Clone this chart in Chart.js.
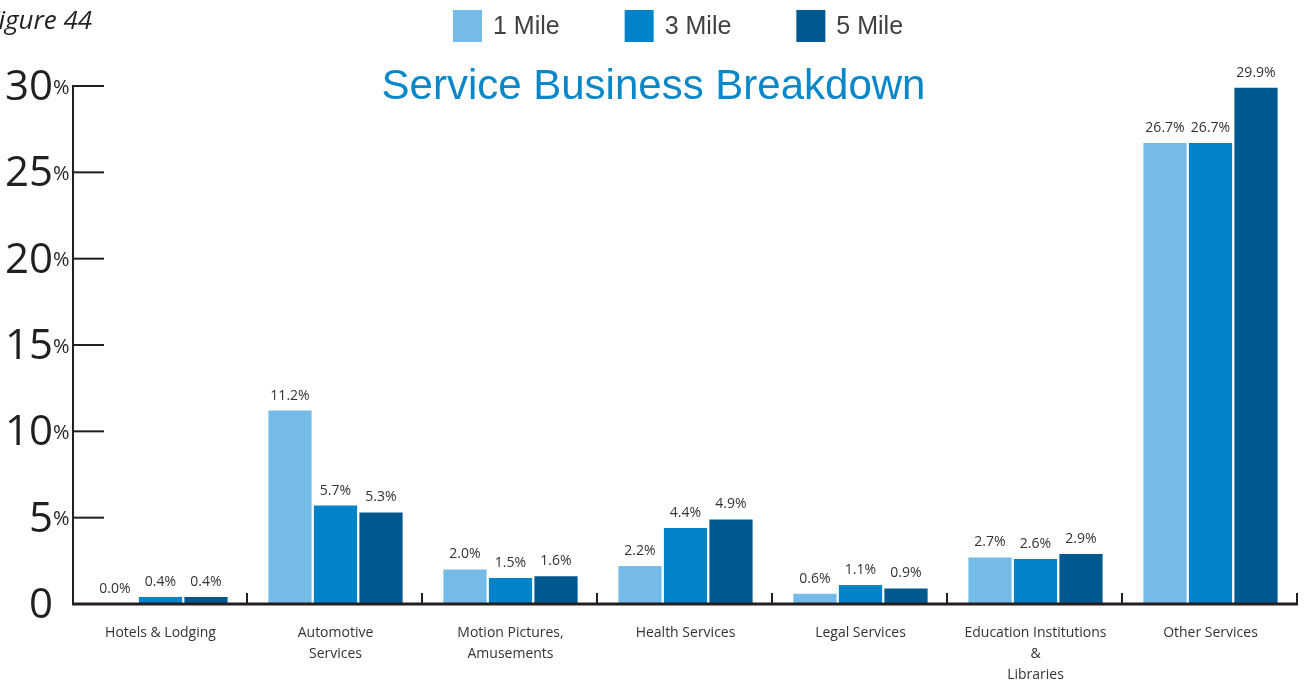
<!DOCTYPE html>
<html>
<head>
<meta charset="utf-8">
<title>Service Business Breakdown</title>
<script src="https://cdn.jsdelivr.net/npm/chart.js@4"></script>
<style>
    html, body { margin: 0; padding: 0; background: #fff; }
    #wrap { position: relative; width: 1305px; height: 682px; }
</style>
</head>
<body>
<div id="wrap"><canvas id="serviceChart"></canvas></div>
<script>
const categories = [
    'Hotels & Lodging',
    ['Automotive', 'Services'],
    ['Motion Pictures,', 'Amusements'],
    'Health Services',
    'Legal Services',
    ['Education Institutions', '&', 'Libraries'],
    'Other Services'
];
const seriesNames = ['1 Mile', '3 Mile', '5 Mile'];
const oneMile = [0.0, 11.2, 2.0, 2.2, 0.6, 2.7, 26.7];
const threeMile = [0.4, 5.7, 1.5, 4.4, 1.1, 2.6, 26.7];
const fiveMile = [0.4, 5.3, 1.6, 4.9, 0.9, 2.9, 29.9];
const yTicks = [0, 5, 10, 15, 20, 25, 30];

const colors = ['#74bce7', '#0083c9', '#00598e'];
const ink = '#231f20';
const bodyFont = '"Open Sans", "DejaVu Sans", sans-serif';
const headFont = '"Liberation Sans", Arial, sans-serif';

// axes, separators, tick labels, value labels, legend and title
const decorations = {
    id: 'decorations',
    afterDraw(chart) {
        const { ctx, chartArea, scales } = chart;
        const y = scales.y;
        const top = y.getPixelForValue(30);
        const base = y.getPixelForValue(0);
        ctx.save();

        // y axis line + inward ticks
        ctx.strokeStyle = ink;
        ctx.lineWidth = 2;
        ctx.beginPath();
        ctx.moveTo(chartArea.left, top - 1);
        ctx.lineTo(chartArea.left, base);
        ctx.stroke();
        yTicks.forEach(v => {
            if (v === 0) return;
            const py = y.getPixelForValue(v);
            ctx.beginPath();
            ctx.moveTo(chartArea.left, py);
            ctx.lineTo(chartArea.left + 31, py);
            ctx.stroke();
        });

        // x axis line + category separators
        ctx.lineWidth = 3;
        ctx.beginPath();
        ctx.moveTo(chartArea.left - 1, base);
        ctx.lineTo(chartArea.right, base);
        ctx.stroke();
        ctx.lineWidth = 2;
        const step = (chartArea.right - chartArea.left) / categories.length;
        for (let i = 1; i <= categories.length; i++) {
            const px = Math.round(chartArea.left + step * i) - 1;
            ctx.beginPath();
            ctx.moveTo(px, base - 11);
            ctx.lineTo(px, base);
            ctx.stroke();
        }

        // y tick labels: big number + small %
        ctx.fillStyle = ink;
        yTicks.forEach(v => {
            const py = y.getPixelForValue(v);
            ctx.font = '42px ' + bodyFont;
            ctx.textAlign = 'right';
            ctx.textBaseline = 'middle';
            ctx.fillText(String(v), 53, py + 2);
            if (v !== 0) {
                ctx.font = '20px ' + bodyFont;
                ctx.textAlign = 'left';
                ctx.fillText('%', 53, py + 2);
            }
        });

        // value labels above bars
        ctx.font = '14px ' + bodyFont;
        ctx.fillStyle = '#333';
        ctx.textAlign = 'center';
        ctx.textBaseline = 'middle';
        chart.data.datasets.forEach((ds, di) => {
            chart.getDatasetMeta(di).data.forEach((bar, i) => {
                ctx.fillText(ds.data[i].toFixed(1) + '%', bar.x, bar.y - 15);
            });
        });

        // legend
        ctx.font = '25px ' + headFont;
        ctx.textBaseline = 'middle';
        ctx.textAlign = 'left';
        const boxW = 29, boxH = 32, gapText = 11, gapItem = 65;
        const widths = chart.data.datasets.map(ds => boxW + gapText + ctx.measureText(ds.label).width);
        const total = widths.reduce((a, b) => a + b, 0) + gapItem * (widths.length - 1);
        let lx = 678 - total / 2;
        chart.data.datasets.forEach((ds, di) => {
            ctx.fillStyle = ds.backgroundColor;
            ctx.fillRect(lx, 10, boxW, boxH);
            ctx.fillStyle = '#404040';
            ctx.fillText(ds.label, lx + boxW + gapText, 27);
            lx += widths[di] + gapItem;
        });

        // title
        ctx.font = '42px ' + headFont;
        ctx.fillStyle = '#0a87c9';
        ctx.textAlign = 'center';
        ctx.textBaseline = 'alphabetic';
        ctx.fillText('Service Business Breakdown', chart.width / 2 + 1, 99);

        // figure caption (cut by the left edge)
        ctx.font = 'italic 26px ' + bodyFont;
        ctx.fillStyle = ink;
        ctx.textAlign = 'left';
        ctx.fillText('Figure 44', -14, 29);

        ctx.restore();
    }
};

new Chart(document.getElementById('serviceChart'), {
    type: 'bar',
    data: {
        labels: categories,
        datasets: [
            { label: seriesNames[0], data: oneMile, backgroundColor: colors[0] },
            { label: seriesNames[1], data: threeMile, backgroundColor: colors[1] },
            { label: seriesNames[2], data: fiveMile, backgroundColor: colors[2] }
        ]
    },
    options: {
        responsive: true,
        maintainAspectRatio: false,
        animation: false,
        layout: { padding: { top: 86, right: 7, left: 0, bottom: 0 } },
        datasets: { bar: { categoryPercentage: 0.78, barPercentage: 0.95 } },
        plugins: {
            legend: { display: false },
            tooltip: { enabled: false }
        },
        scales: {
            x: {
                grid: { display: false },
                border: { display: false },
                ticks: {
                    color: '#333',
                    font: { family: bodyFont, size: 14, lineHeight: 1.5 },
                    padding: 11,
                    maxRotation: 0,
                    autoSkip: false
                },
                afterFit(scale) { scale.height = 78; }
            },
            y: {
                min: 0,
                max: 30,
                grid: { display: false },
                border: { display: false },
                ticks: { display: false, stepSize: 5 },
                afterFit(scale) { scale.width = 73; }
            }
        }
    },
    plugins: [decorations]
});
</script>
</body>
</html>
